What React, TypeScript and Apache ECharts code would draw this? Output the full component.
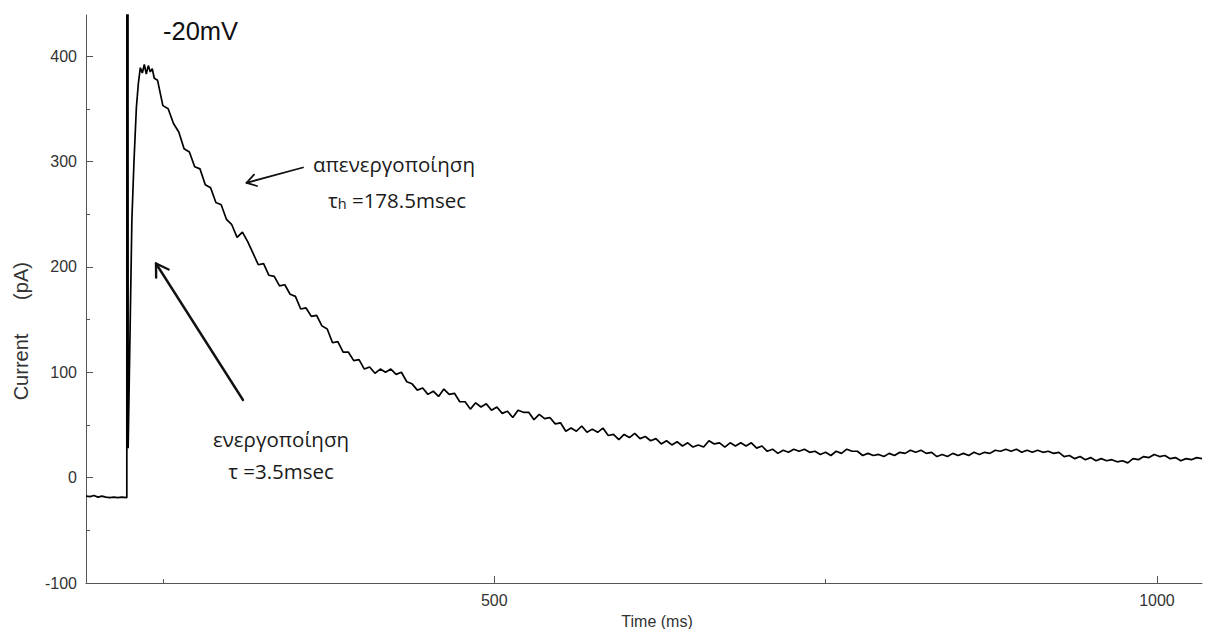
import { useEffect, useRef } from "react";
import * as echarts from "echarts";

// Holding current before the voltage step (ms, pA)
const holdingTimesMs = [192, 195, 198, 201, 204, 207, 210, 213, 216, 219, 222.8];
const holdingPa = [-17.5, -18, -17, -18.5, -17.5, -18.5, -19, -18.5, -19, -18.5, -19];

// Capacitive transient, activation and peak (ms, pA)
const onsetTimesMs = [223.0, 223.8, 226.6, 228.2, 230.0, 231.5, 233.0, 234.5, 236, 237.5, 239, 240.5, 242, 243.5];
const onsetPa = [3000, 28, 244, 300, 351, 374, 389, 384, 392, 383, 391, 385, 388, 379];

// Inactivating current, sampled every 4 ms from 246 ms
const decayStartMs = 246;
const sampleIntervalMs = 4;
const decayPa = [
  377, 353, 350, 336, 328, 312, 309,
  295, 293, 278, 275, 261, 259, 245, 240, 228, 233,
  224, 213, 202, 203, 192, 191, 182, 183, 174, 172,
  160, 161, 153, 154, 144, 141, 128, 129, 119, 119,
  111, 112, 103, 105, 99, 103, 100, 103, 98, 100,
  91, 89, 83, 85, 79, 82, 77, 84, 79, 80,
  72, 72, 65, 71, 67, 70, 64, 67, 61, 63,
  57, 64, 62, 62, 55, 60, 56, 57, 51, 52,
  44, 47, 44, 49, 43, 46, 43, 47, 40, 41,
  36, 41, 38, 42, 37, 39, 35, 37, 32, 35,
  31, 34, 30, 33, 29, 31, 29, 35, 32, 33,
  29, 33, 30, 33, 30, 33, 28, 30, 25, 27,
  23, 26, 24, 27, 25, 27, 24, 25, 22, 24,
  21, 25, 23, 27, 25, 25, 21, 23, 21, 22,
  20, 23, 21, 24, 23, 26, 24, 26, 23, 24,
  20, 22, 20, 23, 21, 23, 21, 24, 22, 24,
  23, 26, 25, 27, 25, 27, 24, 26, 24, 26,
  24, 25, 23, 24, 20, 21, 18, 20, 17, 19,
  16, 18, 16, 17, 15, 16, 14, 18, 17, 20,
  19, 22, 20, 21, 18, 19, 16, 18, 17, 19,
  18,
];

// Axis ticks and labels
const xMin = 192;
const xMax = 1034;
const xMajorTicks = [500, 1000];
const xMinorTicks = [250, 750];
const yMin = -100;
const yMax = 439;
const yMajorTicks = [-100, 0, 100, 200, 300, 400];
const yMinorTicks = [-50, 50, 150, 250, 350];

const AXIS_COLOR = "#555";
const LABEL_COLOR = "#333";
const SANS = "Liberation Sans, Arial, sans-serif";
const GREEK = "Open Sans, Noto Sans, sans-serif";

function buildTrace(): [number, number][] {
  const pts: [number, number][] = [];
  holdingTimesMs.forEach((t, i) => pts.push([t, holdingPa[i]]));
  onsetTimesMs.forEach((t, i) => pts.push([t, onsetPa[i]]));
  decayPa.forEach((v, i) => pts.push([decayStartMs + i * sampleIntervalMs, v]));
  return pts;
}

function arrow(
  tail: [number, number],
  tip: [number, number],
  headLen: number,
  headDeg: number,
  width: number
) {
  const dx = tail[0] - tip[0];
  const dy = tail[1] - tip[1];
  const len = Math.hypot(dx, dy);
  const ux = dx / len;
  const uy = dy / len;
  const a = (headDeg * Math.PI) / 180;
  const rot = (s: number): [number, number] => [
    tip[0] + headLen * (ux * Math.cos(s * a) - uy * Math.sin(s * a)),
    tip[1] + headLen * (ux * Math.sin(s * a) + uy * Math.cos(s * a)),
  ];
  const style = { stroke: "#111", lineWidth: width, fill: null, lineCap: "round", lineJoin: "round" };
  return [
    { type: "line", shape: { x1: tail[0], y1: tail[1], x2: tip[0], y2: tip[1] }, style },
    { type: "polyline", shape: { points: [rot(1), tip, rot(-1)] }, style },
  ];
}

export default function App() {
  const ref = useRef<HTMLDivElement>(null);

  useEffect(() => {
    if (!ref.current) return;
    const chart = echarts.init(ref.current, null, { renderer: "svg" });

    const axisLineStyle = { color: AXIS_COLOR, width: 1 };
    const greekStyle = (text: string) => ({
      text,
      font: `20.5px ${GREEK}`,
      fill: "#1a1a1a",
      textAlign: "center",
      textVerticalAlign: "middle",
    });

    chart.setOption({
      animation: false,
      backgroundColor: "#ffffff",
      grid: { left: 86, right: 6, top: 15, bottom: 46, containLabel: false, outerBoundsMode: "none" },
      xAxis: [
        {
          type: "value",
          min: xMin,
          max: xMax,
          position: "bottom",
          axisLine: { show: true, onZero: false, lineStyle: axisLineStyle },
          axisTick: { show: true, inside: true, length: 7, customValues: xMajorTicks, lineStyle: axisLineStyle },
          axisLabel: {
            show: true,
            customValues: xMajorTicks,
            formatter: (v: number) => String(v),
            color: LABEL_COLOR,
            fontSize: 16,
            fontFamily: SANS,
            margin: 9,
          },
          splitLine: { show: false },
        },
        {
          type: "value",
          min: xMin,
          max: xMax,
          position: "bottom",
          axisLine: { show: false, onZero: false },
          axisTick: { show: true, inside: true, length: 4, customValues: xMinorTicks, lineStyle: axisLineStyle },
          axisLabel: { show: false },
          splitLine: { show: false },
        },
      ],
      yAxis: [
        {
          type: "value",
          min: yMin,
          max: yMax,
          position: "left",
          axisLine: { show: true, onZero: false, lineStyle: axisLineStyle },
          axisTick: { show: true, inside: true, length: 7, customValues: yMajorTicks, lineStyle: axisLineStyle },
          axisLabel: {
            show: true,
            customValues: yMajorTicks,
            formatter: (v: number) => String(v),
            color: LABEL_COLOR,
            fontSize: 16,
            fontFamily: SANS,
            margin: 9,
          },
          splitLine: { show: false },
        },
        {
          type: "value",
          min: yMin,
          max: yMax,
          position: "left",
          axisLine: { show: false, onZero: false },
          axisTick: { show: true, inside: true, length: 4, customValues: yMinorTicks, lineStyle: axisLineStyle },
          axisLabel: { show: false },
          splitLine: { show: false },
        },
      ],
      series: [
        {
          type: "line",
          xAxisIndex: 0,
          yAxisIndex: 0,
          data: buildTrace(),
          showSymbol: false,
          symbol: "none",
          clip: true,
          lineStyle: { color: "#000", width: 1.7 },
        },
      ],
      graphic: [
        {
          type: "text",
          x: 21,
          y: 367,
          rotation: Math.PI / 2,
          style: {
            text: "Current",
            font: `20px ${SANS}`,
            fill: LABEL_COLOR,
            textAlign: "center",
            textVerticalAlign: "middle",
          },
        },
        {
          type: "text",
          x: 21,
          y: 281,
          rotation: Math.PI / 2,
          style: {
            text: "(pA)",
            font: `20px ${SANS}`,
            fill: LABEL_COLOR,
            textAlign: "center",
            textVerticalAlign: "middle",
          },
        },
        {
          type: "text",
          x: 657,
          y: 621,
          style: {
            text: "Time (ms)",
            font: `16px ${SANS}`,
            fill: LABEL_COLOR,
            textAlign: "center",
            textVerticalAlign: "middle",
          },
        },
        {
          type: "text",
          x: 163,
          y: 31,
          style: {
            text: "-20mV",
            font: `25.5px ${SANS}`,
            fill: "#111",
            textAlign: "left",
            textVerticalAlign: "middle",
          },
        },
        { type: "text", x: 394, y: 164, style: greekStyle("απενεργοποίηση") },
        {
          type: "text",
          x: 397,
          y: 197,
          style: {
            text: "{m|τ}{s|h}{m| =178.5msec}",
            fill: "#1a1a1a",
            textAlign: "center",
            textVerticalAlign: "middle",
            rich: {
              m: { fontSize: 20.5, fontFamily: GREEK, lineHeight: 27, verticalAlign: "bottom", fill: "#1a1a1a" },
              s: { fontSize: 14.5, fontFamily: GREEK, lineHeight: 15, verticalAlign: "bottom", fill: "#1a1a1a" },
            },
          },
        },
        { type: "text", x: 281, y: 439, style: greekStyle("ενεργοποίηση") },
        { type: "text", x: 281, y: 471, style: greekStyle("τ =3.5msec") },
        ...arrow([303, 167.5], [246.5, 182.8], 11, 32, 1.8),
        ...arrow([243, 400], [156, 263.5], 14, 32, 2.4),
      ],
    });

    return () => chart.dispose();
  }, []);

  return (
    <div
      ref={ref}
      style={{ position: "fixed", left: 0, top: 0, width: 1208, height: 629, background: "#fff" }}
    />
  );
}
